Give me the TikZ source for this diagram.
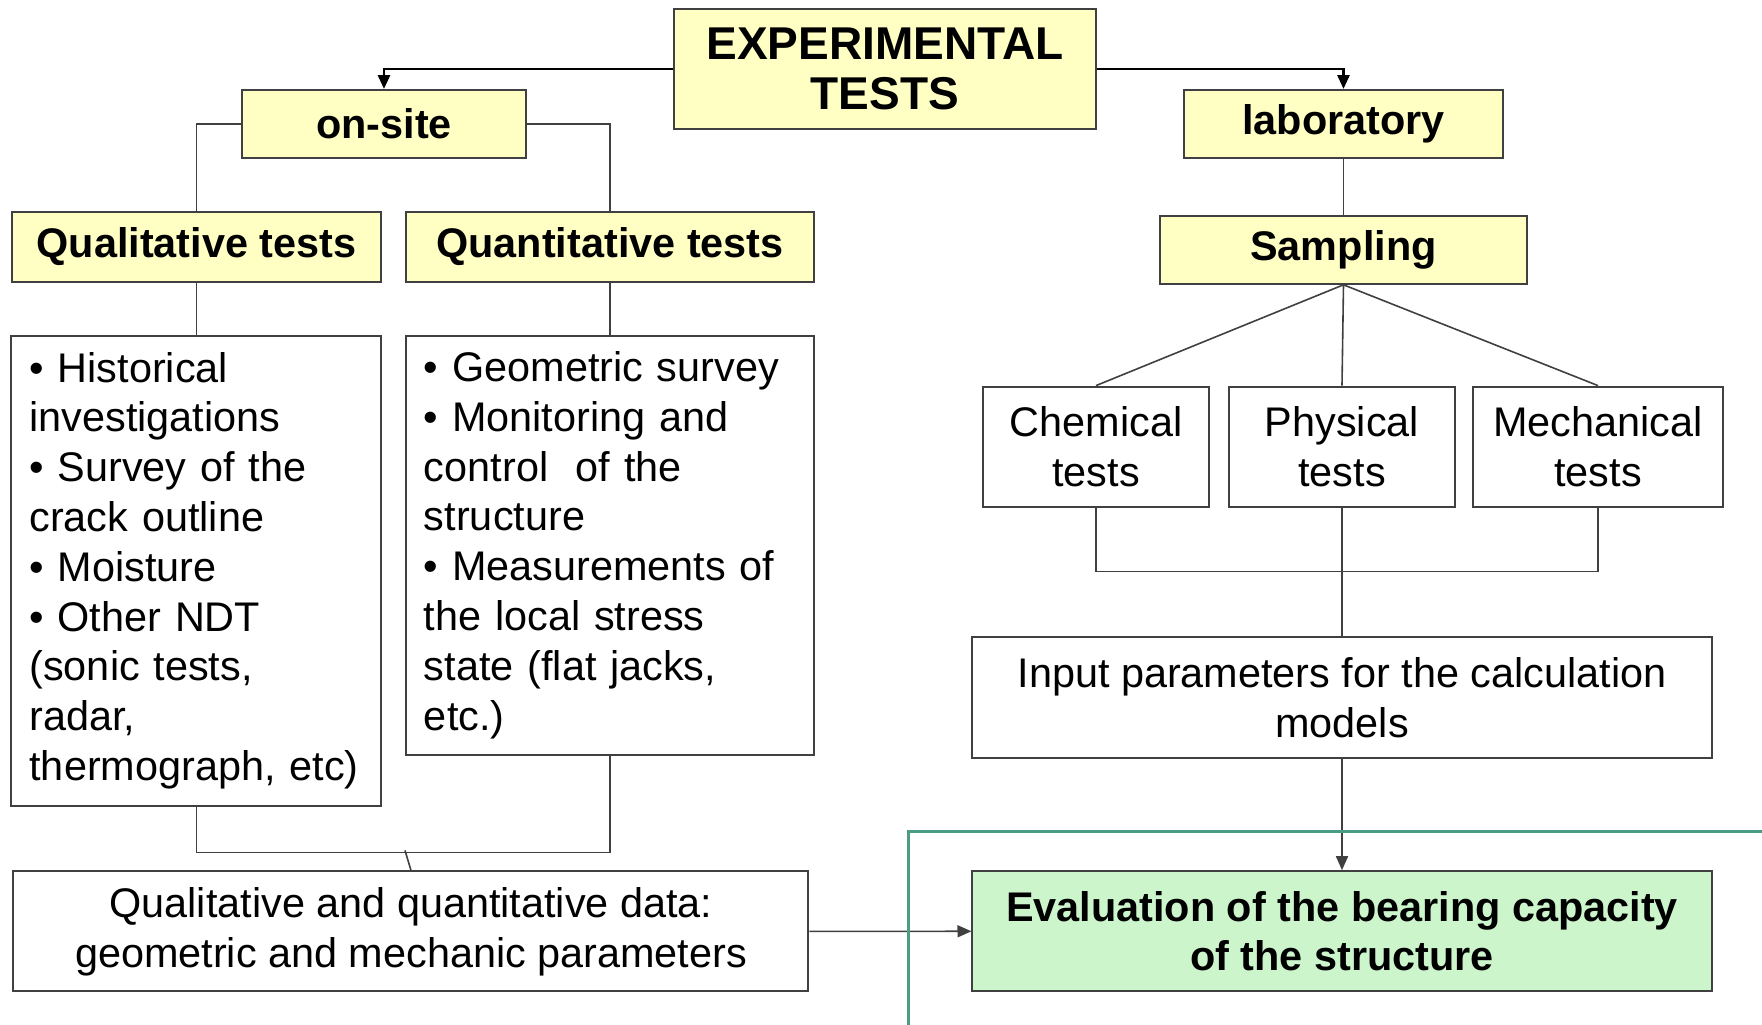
\documentclass[tikz,border=0pt]{standalone}
\usepackage{fontspec}
\setmainfont{Liberation Sans}
\usepackage{tikz}
\usetikzlibrary{shapes, arrows.meta, positioning}
\definecolor{headColor}{HTML}{FFFFC4}
\definecolor{evalColor}{HTML}{CCF5CC}
\definecolor{frameColor}{HTML}{4A9C84}
\definecolor{edgeColor}{HTML}{404040}
\newcommand{\bodysize}{\fontsize{20.7}{24.9}\selectfont}
\tikzstyle{head} = [rectangle,
minimum height=34pt,
align=center,
inner sep=0pt,
draw=edgeColor, line width=1pt,
fill=headColor,
font=\bodysize\bfseries]
\tikzstyle{listbox} = [rectangle,
align=left,
inner xsep=9pt, inner ysep=0pt,
draw=edgeColor, line width=1pt,
fill=white]
\tikzstyle{testbox} = [rectangle,
minimum height=60pt,
align=center,
inner sep=0pt,
draw=edgeColor, line width=1pt,
fill=white]
\tikzstyle{arrow} = [line width=1.4pt, -{Triangle[width=6pt,length=7pt]}]
\tikzstyle{conn} = [draw=edgeColor, line width=0.8pt]
\tikzstyle{thinarrow} = [conn, -{Triangle[width=6pt,length=7pt]}]

\begin{document}
\begin{tikzpicture}[node distance=0.7cm and 0.7cm,font=\bodysize]
    \useasboundingbox (-442.5pt,34.5pt) rectangle (438.5pt,-477.5pt);
    % Nodes
    \node[head, minimum width=211pt, minimum height=60pt, font=\fontsize{23}{25}\selectfont\bfseries] (exp) {EXPERIMENTAL\\TESTS};
    \node[head, minimum width=142pt, left=73pt of exp, yshift=-27.5pt] (onsite) {on-site};
    \node[head, minimum width=159.5pt, right=43pt of exp, yshift=-27.5pt] (lab) {laboratory};
    \node[head, minimum width=184.5pt, minimum height=35pt, below=26pt of onsite, xshift=-93.75pt] (qualh) {Qualitative tests};
    \node[head, minimum width=204pt, minimum height=35pt, right=11.5pt of qualh] (quanth) {Quantitative tests};
    \node[head, minimum width=183.5pt, below=27.9pt of lab] (sampling) {Sampling};
    \node[listbox, text width=167pt, minimum height=235pt, below=25.8pt of qualh] (quallist) {\textbullet{} Historical\\investigations\\\textbullet{} Survey of the\\crack outline\\\textbullet{} Moisture\\\textbullet{} Other NDT\\(sonic tests,\\radar,\\thermograph, etc)};
    \node[listbox, text width=186pt, minimum height=209.5pt, below=25.8pt of quanth] (quantlist) {\textbullet{} Geometric survey\\\textbullet{} Monitoring and\\control~ of the\\structure\\\textbullet{} Measurements of\\the local stress\\state (flat jacks,\\etc.)};
    \node[testbox, minimum width=397.5pt, below=31.9pt of quallist, xshift=107.25pt] (data) {Qualitative and quantitative data:\\geometric and mechanic parameters};
    \node[testbox, minimum width=113pt, below=50.4pt of sampling, xshift=-0.75pt] (phys) {Physical\\tests};
    \node[testbox, minimum width=113pt, left=9pt of phys] (chem) {Chemical\\tests};
    \node[testbox, minimum width=125pt, right=8pt of phys] (mech) {Mechanical\\tests};
    \node[testbox, minimum width=369.5pt, minimum height=60.5pt, below=64.4pt of phys] (input) {Input parameters for the calculation\\models};
    \node[testbox, minimum width=369.5pt, below=55.4pt of input, fill=evalColor, font=\bodysize\bfseries] (eval) {Evaluation of the bearing capacity\\of the structure};
    \coordinate[below=23pt of quallist.south] (qjoin);
    \coordinate[above left=10pt and 3pt of data.north] (qslant);
    \coordinate[below=32pt of chem.south] (tjoin);

    % Arrows
    \draw[arrow] (exp.west) -| (onsite.north);
    \draw[arrow] (exp.east) -| (lab.north);
    \draw[conn] (onsite.west) -| (qualh.north);
    \draw[conn] (onsite.east) -| (quanth.north);
    \draw[conn] (qualh) -- (quallist);
    \draw[conn] (quanth) -- (quantlist);
    \draw[conn] (quallist.south) -- (qjoin) -| (quantlist.south);
    \draw[conn] (qslant) -- (data.north);
    \draw[conn] (lab) -- (sampling);
    \foreach \t in {chem, phys, mech}
        \draw[conn] (sampling.south) -- (\t.north);
    \draw[conn] (chem.south) -- (tjoin) -| (mech.south);
    \draw[conn] (phys) -- (input);
    \draw[thinarrow] (input) -- (eval);
    \draw[thinarrow] (data) -- (eval);
    \draw[frameColor, line width=1.6pt] ([xshift=-31.5pt,yshift=19.5pt]eval.north west) rectangle ++(440pt,-130pt);
\end{tikzpicture}
\end{document}
